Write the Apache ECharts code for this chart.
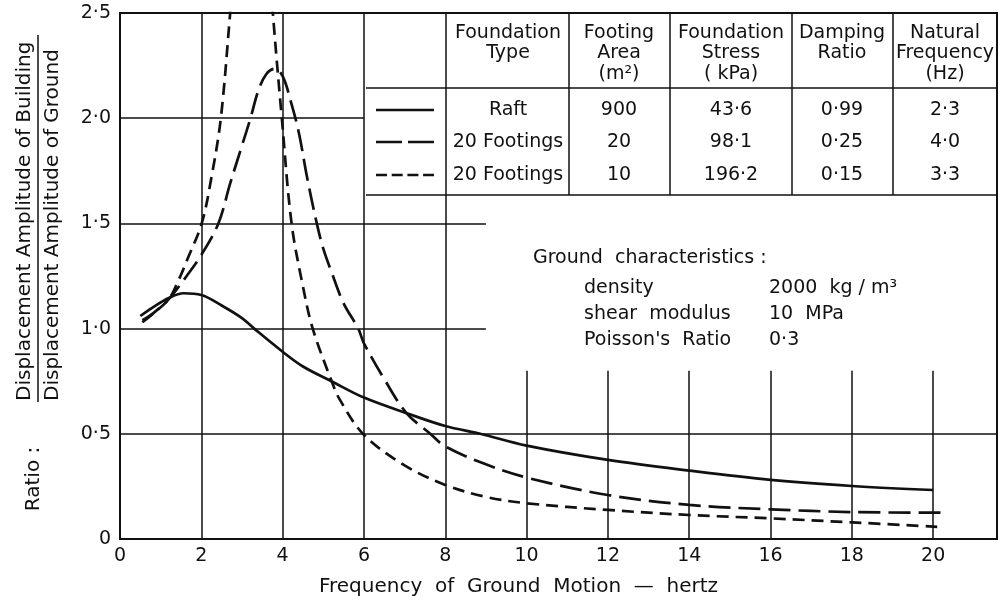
<!DOCTYPE html>
<html>
<head>
<meta charset="utf-8">
<script src="https://cdn.jsdelivr.net/npm/echarts@6/dist/echarts.min.js"></script>
<style>
  html, body { margin: 0; padding: 0; background: #fff; }
  #chart { width: 1000px; height: 604px; }
</style>
</head>
<body>
<div id="chart"></div>
<script>
// curves (frequency in Hz, amplitude ratio)
const raftFreq = [0.5, 0.8, 1.2, 1.56, 2.0, 2.5, 3.0, 3.3, 4.0, 4.5, 5.2, 6.0, 7.05, 8.0, 8.86, 10, 12, 14, 16, 18, 20];
const raftRatio = [1.06, 1.1, 1.145, 1.168, 1.16, 1.11, 1.05, 1.0, 0.89, 0.82, 0.75, 0.672, 0.598, 0.537, 0.5, 0.444, 0.376, 0.325, 0.281, 0.252, 0.233];

const footing20Freq = [0.55, 0.8, 1.2, 1.64, 2.0, 2.42, 2.71, 3.0, 3.21, 3.4, 3.6, 3.8, 4.0, 4.2, 4.4, 4.6, 4.84, 5.0, 5.2, 5.5, 5.86, 6.0, 6.5, 7.04, 7.63, 8.0, 9.0, 10, 12, 14, 16, 18, 20.2];
const footing20Ratio = [1.03, 1.07, 1.14, 1.25, 1.35, 1.5, 1.69, 1.87, 2.0, 2.13, 2.21, 2.235, 2.2, 2.08, 1.93, 1.72, 1.5, 1.38, 1.27, 1.12, 1.0, 0.93, 0.76, 0.6, 0.5, 0.44, 0.355, 0.292, 0.209, 0.162, 0.141, 0.128, 0.125];

const footing10Freq = [0.55, 0.8, 1.2, 1.44, 1.68, 2.01, 2.25, 2.48, 2.71, 2.95, 3.2, 3.35, 3.5, 3.76, 3.98, 4.22, 4.5, 4.74, 5.21, 5.41, 6.0, 7.0, 8.0, 9.0, 10, 12, 14, 16, 18, 20.1];
const footing10Ratio = [1.04, 1.07, 1.14, 1.23, 1.34, 1.5, 1.72, 2.0, 2.5, 3.05, 3.33, 3.35, 3.2, 2.5, 2.0, 1.5, 1.2, 1.0, 0.748, 0.661, 0.495, 0.35, 0.257, 0.2, 0.17, 0.138, 0.114, 0.098, 0.079, 0.058];

// table contents
const foundationType = ['Raft', '20 Footings', '20 Footings'];
const footingArea = ['900', '20', '10'];
const foundationStress = ['43·6', '98·1', '196·2'];
const dampingRatio = ['0·99', '0·25', '0·15'];
const naturalFrequency = ['2·3', '4·0', '3·3'];
const tableHeaders = [
  ['Foundation', 'Type'],
  ['Footing', 'Area', '(m²)'],
  ['Foundation', 'Stress', '( kPa)'],
  ['Damping', 'Ratio'],
  ['Natural', 'Frequency', '(Hz)']
];

const groundLabels = ['density', 'shear  modulus', "Poisson's  Ratio"];
const groundValues = ['2000  kg / m³', '10  MPa', '0·3'];

const X_MAX = 21.57;
const INK = '#111';
const FONT = '"DejaVu Sans", sans-serif';

const pairs = (xs, ys) => xs.map((x, i) => [x, ys[i]]);

// partial grid lines as drawn in the original
const gridSegs = [
  [[0, 2], [6, 2]],
  [[0, 1.5], [9, 1.5]],
  [[0, 1], [9, 1]],
  [[0, 0.5], [X_MAX, 0.5]],
  [[2, 0], [2, 2.5]],
  [[4, 0], [4, 2.5]],
  [[6, 0], [6, 2.5]],
  [[8, 0], [8, 2.5]],
  ...[10, 12, 14, 16, 18, 20].map(x => [[x, 0], [x, 0.8]])
];

const chart = echarts.init(document.getElementById('chart'), null, { renderer: 'canvas' });

function txt(x, y, text, opts) {
  return Object.assign({
    type: 'text', x, y, silent: true,
    style: Object.assign({
      text, fill: INK, font: '19px ' + FONT,
      align: 'center', textAlign: 'center',
      verticalAlign: 'middle', textVerticalAlign: 'middle'
    }, (opts && opts.style) || {})
  }, (opts && opts.el) || {});
}
function seg(x1, y1, x2, y2, w, dash) {
  return {
    type: 'line', silent: true,
    shape: { x1, y1, x2, y2 },
    style: { stroke: INK, lineWidth: w || 1.5, lineDash: dash || null }
  };
}

const graphics = [];
// table frame
const colCenter = [508, 619, 731, 842, 945];
const rowY = [110, 142, 175];
graphics.push(seg(366, 88, 998, 88));
graphics.push(seg(366, 195, 998, 195));
[569, 670, 792, 893].forEach(x => graphics.push(seg(x, 14, x, 195)));
tableHeaders.forEach((lines, c) => {
  lines.forEach((t, i) => graphics.push(txt(colCenter[c], 33 + i * 20.5, t)));
});
const cols = [foundationType, footingArea, foundationStress, dampingRatio, naturalFrequency];
cols.forEach((col, c) => col.forEach((t, r) => graphics.push(txt(colCenter[c], rowY[r], t))));
// legend swatches
graphics.push(seg(376, rowY[0], 434, rowY[0], 2.5));
graphics.push(seg(376, rowY[1], 434, rowY[1], 2.5, [26, 6]));
graphics.push(seg(376, rowY[2], 434, rowY[2], 2.5, [11, 4.7]));

// ground characteristics
graphics.push(txt(533, 258, 'Ground  characteristics :', { style: { align: 'left', textAlign: 'left' } }));
groundLabels.forEach((t, i) => {
  graphics.push(txt(584, 288 + i * 26, t, { style: { align: 'left', textAlign: 'left' } }));
  graphics.push(txt(769, 288 + i * 26, groundValues[i], { style: { align: 'left', textAlign: 'left' } }));
});

// y axis title (fraction)
const rot = { rotation: Math.PI / 2 };
graphics.push(txt(25, 401, 'Displacement Amplitude of Building', { el: rot, style: { align: 'left', textAlign: 'left', font: '20px ' + FONT } }));
graphics.push(txt(53, 401, 'Displacement Amplitude of Ground', { el: rot, style: { align: 'left', textAlign: 'left', font: '20px ' + FONT } }));
graphics.push(seg(38, 35, 38, 402, 1.5));
graphics.push(txt(34, 479, 'Ratio :', { el: rot, style: { font: '20px ' + FONT } }));

const curve = (name, data, dash) => ({
  name, type: 'line', data, showSymbol: false, smooth: 0.35, clip: true,
  lineStyle: { color: INK, width: 2.7, type: dash, cap: 'butt' },
  z: 5
});

chart.setOption({
  animation: false,
  backgroundColor: '#fff',
  textStyle: { fontFamily: FONT, color: INK },
  grid: { left: 120, top: 13, width: 877, height: 526, show: true, borderColor: INK, borderWidth: 2 },
  xAxis: {
    type: 'value', min: 0, max: X_MAX, interval: 2,
    axisLine: { lineStyle: { color: INK, width: 2 } },
    axisTick: { show: false },
    splitLine: { show: false },
    axisLabel: {
      color: INK, fontSize: 19, margin: 8, fontFamily: FONT,
      formatter: v => (v % 2 === 0 ? String(v) : '')
    },
    name: 'Frequency  of  Ground  Motion  —  hertz',
    nameLocation: 'middle', nameGap: 38,
    nameTextStyle: { fontSize: 20, color: INK, fontFamily: FONT, padding: [0, 80, 0, 0] }
  },
  yAxis: {
    type: 'value', min: 0, max: 2.5, interval: 0.5,
    axisLine: { show: true, lineStyle: { color: INK, width: 2 } },
    axisTick: { show: false },
    splitLine: { show: false },
    axisLabel: {
      color: INK, fontSize: 19, margin: 9, fontFamily: FONT,
      formatter: v => (v === 0 ? '0' : v.toFixed(1).replace('.', '·'))
    }
  },
  graphic: graphics,
  series: [
    {
      type: 'line', data: [], silent: true,
      markLine: {
        silent: true, symbol: 'none', animation: false,
        label: { show: false },
        lineStyle: { color: INK, width: 1.5, type: 'solid' },
        emphasis: { disabled: true },
        data: gridSegs.map(([a, b]) => [{ coord: a }, { coord: b }])
      }
    },
    curve('Raft', pairs(raftFreq, raftRatio), 'solid'),
    curve('20 Footings (20 m²)', pairs(footing20Freq, footing20Ratio), [22, 8]),
    curve('20 Footings (10 m²)', pairs(footing10Freq, footing10Ratio), [12, 7])
  ]
});
</script>
</body>
</html>
